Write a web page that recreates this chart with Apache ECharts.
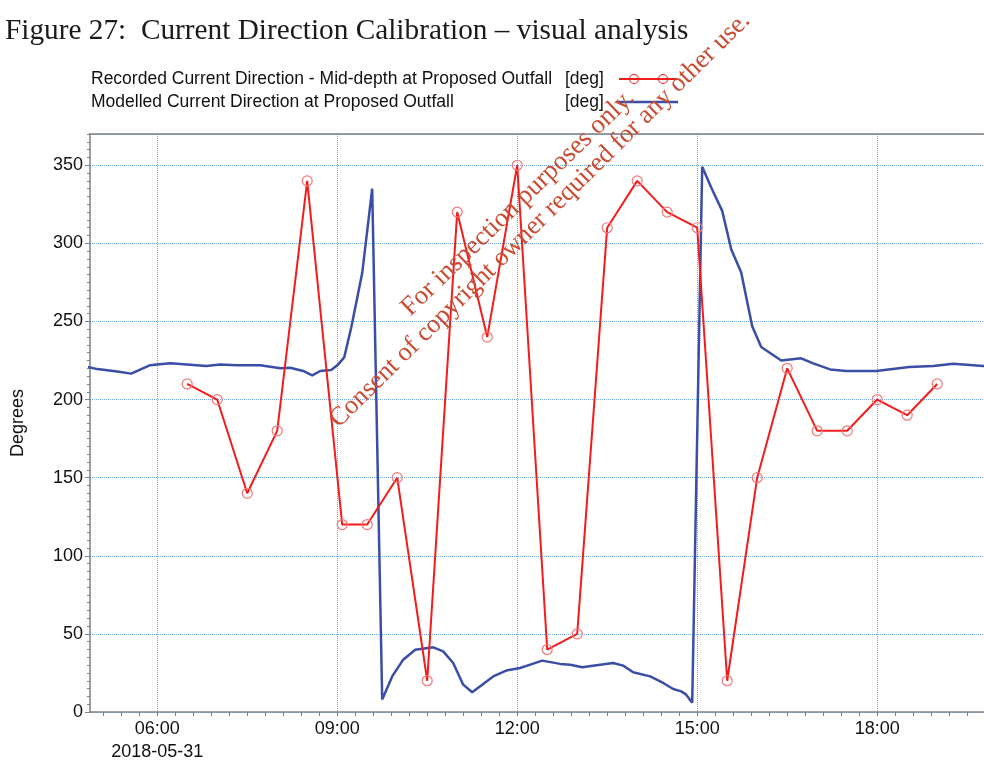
<!DOCTYPE html>
<html>
<head>
<meta charset="utf-8">
<title>Current Direction Calibration</title>
<script src="https://cdn.jsdelivr.net/npm/echarts@6/dist/echarts.min.js"></script>
<style>
  html, body { margin: 0; padding: 0; background: #ffffff; }
  #chart { width: 984px; height: 765px; }
</style>
</head>
<body>
<div id="chart"></div>
<script>
// Recorded mid-depth current direction (ADCP), 31 May 2018
const recordedTimes = ["06:30","07:00","07:30","08:00","08:30","09:05","09:30","10:00","10:30","11:00",
  "11:30","12:00","12:30","13:00","13:30","14:00","14:30","15:00","15:30","16:00",
  "16:30","17:00","17:30","18:00","18:30","19:00"];
const recordedDeg = [210,200,140,180,340,120,120,150,20,320,
  240,350,40,50,310,340,320,310,20,150,
  220,180,180,200,190,210];

// Modelled current direction at the proposed outfall
const modelledTimes = ["04:50","05:00","05:20","05:34","05:53","06:00","06:13","06:30","06:49","07:03",
  "07:20","07:43","08:03","08:13","08:26","08:35","08:43","08:54","09:01","09:07",
  "09:14","09:25","09:35","09:45","09:55","10:06","10:18","10:36","10:46","10:56",
  "11:06","11:15","11:25","11:36","11:49","12:03","12:13","12:25","12:43","12:53",
  "13:05","13:23","13:36","13:46","13:56","14:13","14:26","14:36","14:44","14:49",
  "14:55","15:05","15:14","15:25","15:34","15:44","15:55","16:04","16:24","16:44",
  "16:56","17:13","17:29","17:59","18:32","18:56","19:16","19:46","19:50"];
const modelledDeg = [221,219.5,218,216.6,222,222.5,223.2,222.5,221.5,222.5,
  222,221.9,220,220.4,218.3,215.5,218.3,218.9,222.5,227,
  246,281,335,8,22.8,33.5,39.9,41.4,38.8,31.4,
  17.5,12.6,17.5,22.8,26.5,28.2,30.3,32.9,30.8,30.3,
  28.6,30.3,31.4,29.7,25.4,22.8,18.6,14.7,13.2,11.1,
  6,349,335.8,320.8,296.2,281.3,247,233.6,225,226.4,
  223.2,219.3,218.3,218.3,220.8,221.5,223,221.5,221.5];

// Axis labels (hours of day) and axis span
const hourLabels = [6, 9, 12, 15, 18];
const dateLabel = "2018-05-31";
const xMin = 4.88, xMax = 19.78;
const yMin = 0, yMax = 370;

const seriesNames = [
  "Recorded Current Direction - Mid-depth at Proposed Outfall",
  "Modelled Current Direction at Proposed Outfall"
];
const unitLabel = "[deg]";

function toHours(t) {
  const p = t.split(":");
  return Number(p[0]) + Number(p[1]) / 60;
}
function pad(n) { return (n < 10 ? "0" : "") + n; }
function fmtHour(v) {
  const h = Math.floor(v + 1e-6);
  const m = Math.round((v - h) * 60);
  return pad(h) + ":" + pad(m);
}

// minor ticks every 18 minutes, phased on the hour labels
const minorTicks = [];
for (let k = -10; k <= 60; k++) {
  const t = Math.round((6 + 0.3 * k) * 1000) / 1000;
  if (t >= xMin && t <= xMax) minorTicks.push(t);
}

const recordedData = recordedTimes.map((t, i) => [toHours(t), recordedDeg[i]]);
const modelledData = modelledTimes.map((t, i) => [toHours(t), modelledDeg[i]]);

const axisGrey = "#808080";
const gridBlue = "#6aa8e8";
const font = "Liberation Sans, Arial, sans-serif";
const serif = "Liberation Serif, Times New Roman, serif";
const wmColor = "#c84b32";
const redLine = "#f21c1c";
const blueLine = "#3b4ea6";

// legend keys: a line with two open rings, and a plain line
const ringKeyPath = "path://M0,4H58V6H0Z" +
  "M10,5A5,5 0 1,1 20,5A5,5 0 1,1 10,5Z M11,5A4,4 0 1,0 19,5A4,4 0 1,0 11,5Z" +
  "M39,5A5,5 0 1,1 49,5A5,5 0 1,1 39,5Z M40,5A4,4 0 1,0 48,5A4,4 0 1,0 40,5Z";
const lineKeyPath = "path://M0,3.6H64V6.4H0Z";

const chart = echarts.init(document.getElementById("chart"), null, { renderer: "canvas" });

chart.setOption({
  animation: false,
  backgroundColor: "#ffffff",
  textStyle: { fontFamily: font },
  grid: { left: 90, right: 0, top: 134, bottom: 53, containLabel: false },
  legend: {
    orient: "vertical",
    left: 91,
    top: 70,
    padding: 0,
    align: "right",
    itemGap: 5,
    itemWidth: 60,
    itemHeight: 10,
    selectedMode: false,
    data: [
      { name: seriesNames[0], icon: ringKeyPath, itemStyle: { color: redLine, borderWidth: 0 } },
      { name: seriesNames[1], icon: lineKeyPath, itemStyle: { color: blueLine, borderWidth: 0 } }
    ],
    formatter: function (name) {
      return "{n|" + name + "}{u|" + unitLabel + "}";
    },
    textStyle: {
      fontFamily: font,
      fontSize: 17.5,
      color: "#111111",
      lineHeight: 18,
      rich: {
        n: { width: 474, align: "left", fontSize: 17.5, fontFamily: font, color: "#111111" },
        u: { width: 48, align: "left", fontSize: 17.5, fontFamily: font, color: "#111111" }
      }
    }
  },
  xAxis: [
    {
      type: "value",
      position: "bottom",
      min: xMin,
      max: xMax,
      axisLine: { show: true, onZero: false, lineStyle: { color: axisGrey, width: 1.5 } },
      axisTick: { show: true, customValues: minorTicks, length: 4, lineStyle: { color: axisGrey, width: 1 } },
      axisLabel: {
        customValues: hourLabels,
        fontSize: 18,
        fontFamily: font,
        color: "#111111",
        margin: 6,
        lineHeight: 23,
        formatter: function (v) {
          const s = fmtHour(v);
          return Math.abs(v - hourLabels[0]) < 1e-6 ? s + "\n" + dateLabel : s;
        }
      },
      splitLine: { show: false }
    },
    {
      type: "value",
      position: "top",
      min: xMin,
      max: xMax,
      axisLine: { show: true, onZero: false, lineStyle: { color: axisGrey, width: 1.5 } },
      axisTick: { show: false, customValues: hourLabels },
      axisLabel: { show: false, customValues: hourLabels },
      splitLine: { show: true, lineStyle: { color: gridBlue, width: 1, type: "dotted" } }
    }
  ],
  yAxis: [
    {
      type: "value",
      position: "left",
      min: yMin,
      max: yMax,
      interval: 50,
      name: "Degrees",
      nameLocation: "middle",
      nameGap: 63,
      nameRotate: 90,
      nameTextStyle: { fontFamily: font, fontSize: 18, color: "#111111" },
      axisLine: { show: true, lineStyle: { color: axisGrey, width: 1.5 } },
      axisTick: { show: true, length: 5, lineStyle: { color: axisGrey } },
      axisLabel: {
        fontSize: 18,
        fontFamily: font,
        color: "#111111",
        margin: 7,
        showMaxLabel: false
      },
      splitLine: { show: true, lineStyle: { color: gridBlue, width: 1, type: "dotted" } }
    },
    {
      type: "value",
      position: "left",
      min: yMin,
      max: yMax,
      interval: 5,
      axisLine: { show: false },
      axisTick: { show: true, length: 3, lineStyle: { color: axisGrey } },
      axisLabel: { show: false },
      splitLine: { show: false }
    }
  ],
  series: [
    {
      name: seriesNames[0],
      type: "line",
      xAxisIndex: 0,
      yAxisIndex: 0,
      data: recordedData,
      symbol: "circle",
      symbolSize: 10,
      showSymbol: true,
      lineStyle: { color: redLine, width: 2 },
      itemStyle: { color: "rgba(255,255,255,0)", borderColor: "#f27878", borderWidth: 1.2 },
      emphasis: { disabled: true },
      z: 3
    },
    {
      name: seriesNames[1],
      type: "line",
      xAxisIndex: 0,
      yAxisIndex: 0,
      data: modelledData,
      symbol: "none",
      showSymbol: false,
      lineStyle: { color: blueLine, width: 2.5 },
      itemStyle: { color: blueLine },
      emphasis: { disabled: true },
      z: 2
    }
  ],
  graphic: [
    {
      type: "text",
      x: 5,
      y: 31,
      style: {
        text: "Figure 27:  Current Direction Calibration \u2013 visual analysis",
        font: "29.3px " + serif,
        fill: "#1a1a1a",
        textAlign: "left",
        textVerticalAlign: "middle"
      }
    },
    {
      type: "text",
      x: 518,
      y: 203,
      rotation: 44 * Math.PI / 180,
      z: 100,
      style: {
        text: "For inspection purposes only.",
        font: "26.6px " + serif,
        fill: wmColor,
        textAlign: "center",
        textVerticalAlign: "middle"
      }
    },
    {
      type: "text",
      x: 540,
      y: 220,
      rotation: 44.6 * Math.PI / 180,
      z: 100,
      style: {
        text: "Consent of copyright owner required for any other use.",
        font: "26.3px " + serif,
        fill: wmColor,
        textAlign: "center",
        textVerticalAlign: "middle"
      }
    }
  ]
});
</script>
</body>
</html>
